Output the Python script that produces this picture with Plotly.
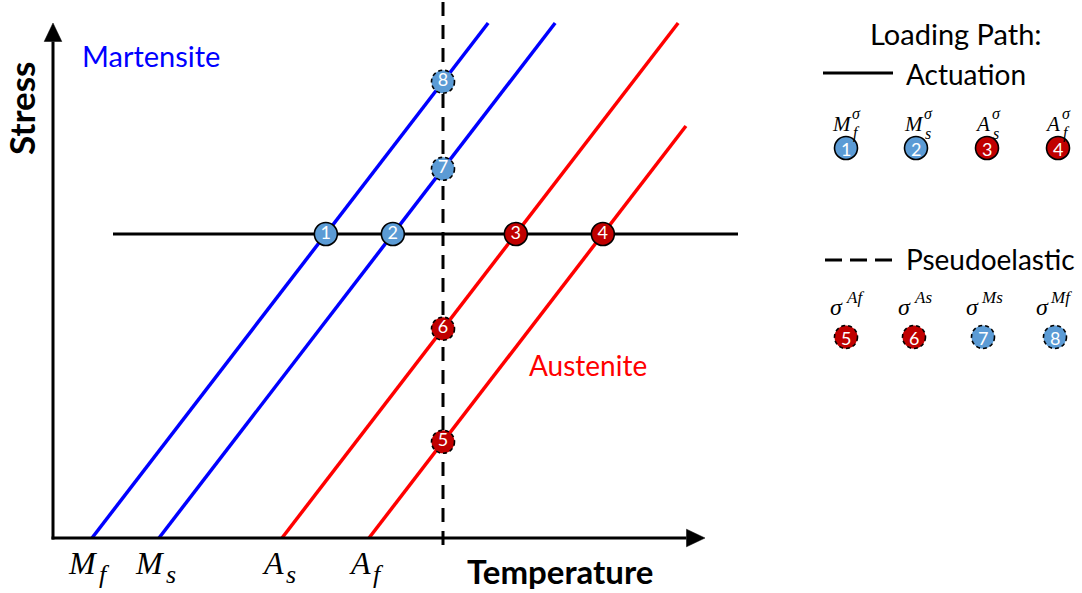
import plotly.graph_objects as go

W, H = 1082, 593

# ---------------- data (schematic units: temperature / stress) ----------------
transition_base = ["M", "M", "A", "A"]
transition_sub = ["f", "s", "s", "f"]
transition_temps = [3.9, 10.6, 22.9, 31.6]          # Mf, Ms, As, Af at zero stress
line_top_stress = [51.5, 51.5, 51.5, 41.2]          # where each transition line stops
cc_slope = 1.3                                      # Clausius-Clapeyron slope
actuation_stress = 30.4
actuation_T_range = [6.0, 68.5]
pseudo_T = 39.0
pseudo_stress_range = [-0.7, 53.8]
axis_T_max = 65.2
axis_stress_max = 51.5
actuation_ids = [1, 2, 3, 4]
actuation_lines = [0, 1, 2, 3]
pseudo_ids = [5, 6, 7, 8]
pseudo_lines = [3, 2, 1, 0]
legend_act_labels = [("M", "f", "σ"), ("M", "s", "σ"), ("A", "s", "σ"), ("A", "f", "σ")]
legend_pse_labels = ["Af", "As", "Ms", "Mf"]

line_colors = ["#0000FF", "#0000FF", "#FF0000", "#FF0000"]
fill_colors = ["#5B9BD5", "#5B9BD5", "#C00000", "#C00000"]
FONT = "Lato"
SERIF = "Liberation Serif"

fig = go.Figure()

# transition lines
for T0, top, c in zip(transition_temps, line_top_stress, line_colors):
    fig.add_trace(go.Scatter(x=[T0, T0 + top / cc_slope], y=[0, top], mode="lines",
                             line=dict(color=c, width=3.5), hoverinfo="skip"))

# axes with arrows
ah_len, ah_half = 1.85, 0.88
fig.add_trace(go.Scatter(x=[-0.15, axis_T_max - ah_len], y=[0, 0], mode="lines",
                         line=dict(color="black", width=3), hoverinfo="skip"))
fig.add_trace(go.Scatter(x=[0, 0], y=[-0.15, axis_stress_max - ah_len], mode="lines",
                         line=dict(color="black", width=3), hoverinfo="skip"))
fig.add_trace(go.Scatter(x=[axis_T_max - ah_len, axis_T_max, axis_T_max - ah_len, axis_T_max - ah_len],
                         y=[ah_half, 0, -ah_half, ah_half], mode="lines", fill="toself",
                         fillcolor="black", line=dict(color="black", width=0.5), hoverinfo="skip"))
fig.add_trace(go.Scatter(x=[-ah_half, 0, ah_half, -ah_half],
                         y=[axis_stress_max - ah_len, axis_stress_max, axis_stress_max - ah_len,
                            axis_stress_max - ah_len], mode="lines", fill="toself",
                         fillcolor="black", line=dict(color="black", width=0.5), hoverinfo="skip"))

# loading paths
fig.add_trace(go.Scatter(x=actuation_T_range, y=[actuation_stress] * 2, mode="lines",
                         line=dict(color="black", width=3), hoverinfo="skip"))
fig.add_trace(go.Scatter(x=[pseudo_T] * 2, y=pseudo_stress_range, mode="lines",
                         line=dict(color="black", width=3, dash="14px,9px"), hoverinfo="skip"))

# intersection points
pts_x, pts_y, pts_c, pts_t, pts_dash = [], [], [], [], []
for pid, li in zip(actuation_ids, actuation_lines):
    pts_x.append(transition_temps[li] + actuation_stress / cc_slope)
    pts_y.append(actuation_stress)
    pts_c.append(fill_colors[li]); pts_t.append(str(pid)); pts_dash.append("solid")
for pid, li in zip(pseudo_ids, pseudo_lines):
    pts_x.append(pseudo_T)
    pts_y.append(cc_slope * (pseudo_T - transition_temps[li]))
    pts_c.append(fill_colors[li]); pts_t.append(str(pid)); pts_dash.append("4px,3px")

fig.add_trace(go.Scatter(x=pts_x, y=pts_y, mode="markers+text", text=pts_t,
                         textposition="middle center",
                         textfont=dict(family=FONT, size=18, color="white"),
                         marker=dict(size=23, color=pts_c, line=dict(width=0)),
                         hoverinfo="skip"))
R = 1.15
shapes = []
for x, y, d in zip(pts_x, pts_y, pts_dash):
    shapes.append(dict(type="circle", xref="x", yref="y", x0=x - R, x1=x + R, y0=y - R, y1=y + R,
                       line=dict(color="black", width=1.6, dash=d), layer="above"))

# ---------------- annotations / legend (paper coordinates) ----------------
def px(x):
    return x / W

def py(y):
    return 1 - y / H

ann = []

def text(x, y, s, size, color="black", family=FONT, bold=False, angle=0, xanchor="center"):
    if bold:
        s = "<b>" + s + "</b>"
    ann.append(dict(x=px(x), y=py(y), xref="paper", yref="paper", text=s, showarrow=False,
                    font=dict(family=family, size=size, color=color), textangle=angle,
                    xanchor=xanchor, yanchor="middle"))

text(151, 55, "Martensite", 29, color="#0000FF")
text(588, 365, "Austenite", 28, color="#FF0000")
text(21, 109, "Stress", 35, bold=True, angle=-90)
text(560, 571, "Temperature", 33, bold=True)
text(956, 33, "Loading Path:", 29)
text(904, 74, "Actuation", 28, xanchor="left")
text(904, 259, "Pseudoelastic", 28, xanchor="left")

# axis tick labels at the transition temperatures
sub_shift = {"M": 12, "A": 9}
for T0, b, s in zip(transition_temps, transition_base, transition_sub):
    ann.append(dict(x=T0, y=0, xref="x", yref="y", text="<i>" + b + "</i>", showarrow=False,
                    font=dict(family=SERIF, size=32, color="black"),
                    xanchor="center", yanchor="middle", xshift=-9, yshift=-25))
    ann.append(dict(x=T0, y=0, xref="x", yref="y", text="<i>" + s + "</i>", showarrow=False,
                    font=dict(family=SERIF, size=26, color="black"),
                    xanchor="center", yanchor="middle", xshift=sub_shift[b], yshift=-36))

# legend lines
shapes.append(dict(type="line", xref="paper", yref="paper", x0=px(823), x1=px(893),
                   y0=py(73), y1=py(73), line=dict(color="black", width=3)))
shapes.append(dict(type="line", xref="paper", yref="paper", x0=px(825), x1=px(893),
                   y0=py(260), y1=py(260), line=dict(color="black", width=3, dash="17px,8px")))

# legend symbol labels and circles
row1_lab_x = [846, 918, 986, 1056]
row1_circ_x = [846, 916, 987, 1058]
for (b, s, sup), lx in zip(legend_act_labels, row1_lab_x):
    text(lx - 4, 124, "<i>" + b + "</i>", 21, family=SERIF)
    text(lx + 10, 133, "<i>" + s + "</i>", 16, family=SERIF)
    text(lx + 10, 113, "<i>" + sup + "</i>", 16, family=SERIF)
row2_lab_x = [846, 914, 983, 1052]
row2_circ_x = [846, 914, 983, 1055]
for s, lx in zip(legend_pse_labels, row2_lab_x):
    text(lx - 10, 307, "<i>σ</i>", 24, family=SERIF)
    text(lx + 9, 297, "<i>" + s + "</i>", 17, family=SERIF)

rl = 11.5
for i, cx in enumerate(row1_circ_x):
    shapes.append(dict(type="circle", xref="paper", yref="paper", x0=px(cx - rl), x1=px(cx + rl),
                       y0=py(148 + rl), y1=py(148 - rl), fillcolor=fill_colors[i],
                       line=dict(color="black", width=1.6), layer="above"))
    text(cx, 149, str(actuation_ids[i]), 18, color="white")
for i, cx in enumerate(row2_circ_x):
    li = pseudo_lines[i]
    shapes.append(dict(type="circle", xref="paper", yref="paper", x0=px(cx - rl), x1=px(cx + rl),
                       y0=py(337 + rl), y1=py(337 - rl), fillcolor=fill_colors[li],
                       line=dict(color="black", width=1.6, dash="4px,3px"), layer="above"))
    text(cx, 338, str(pseudo_ids[i]), 18, color="white")

fig.update_layout(
    width=W, height=H, margin=dict(l=0, r=0, t=0, b=0),
    paper_bgcolor="white", plot_bgcolor="white", showlegend=False,
    xaxis=dict(range=[-5.3, 102.9], visible=False, fixedrange=True),
    yaxis=dict(range=[-5.5, 53.8], visible=False, fixedrange=True),
    shapes=shapes, annotations=ann,
)

fig.write_html("out.html")
